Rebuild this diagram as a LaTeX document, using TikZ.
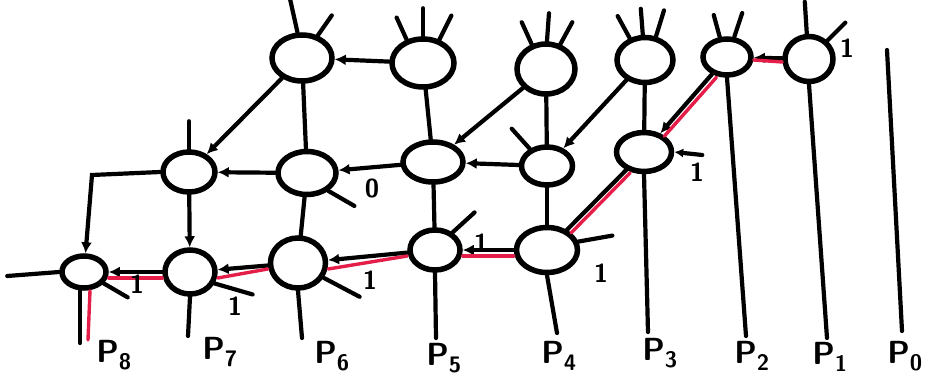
\documentclass[tikz,border=0pt]{standalone}
\usetikzlibrary{shapes.geometric,arrows.meta}
\definecolor{pen}{RGB}{228,30,72}
\begin{document}
\begin{tikzpicture}[x=1pt,y=-1pt,
  nd/.style={ellipse,draw,line width=5.5pt,inner sep=0pt,fill=white},
  ln/.style={line width=4.2pt,line cap=round},
  arr/.style={ln,-{Latex[length=11pt,width=11pt]}},
  rl/.style={line width=3.4pt,draw=pen,line cap=round},
  lab/.style={font=\fontsize{26}{26}\selectfont\bfseries\sffamily},
  plab/.style={font=\fontsize{32}{32}\selectfont\bfseries\sffamily}]
\useasboundingbox (0,0) rectangle (932,382);
% free ends
\coordinate (e8) at (80,343);
\coordinate (r8) at (88,340);
\coordinate (e7) at (188,336);
\coordinate (e6) at (302,338);
\coordinate (e5) at (436,338);
\coordinate (e4) at (557,333);
\coordinate (e3) at (648,332);
\coordinate (e2) at (746,336);
\coordinate (e1) at (827,338);
\coordinate (p0a) at (887,50);
\coordinate (p0b) at (902,331);
\coordinate (k8) at (92,175);
% nodes
\node[nd,minimum width=60pt,minimum height=46pt] (T6) at (302,58) {};
\node[nd,minimum width=62pt,minimum height=48pt] (T5) at (423,63) {};
\node[nd,minimum width=58pt,minimum height=50pt] (T4) at (546,69) {};
\node[nd,minimum width=56pt,minimum height=45pt] (T3) at (645,60) {};
\node[nd,minimum width=48pt,minimum height=36pt] (T2) at (727,57) {};
\node[nd,minimum width=48pt,minimum height=45pt] (T1) at (809,59) {};
\node[nd,minimum width=52pt,minimum height=40pt] (M7) at (189,172) {};
\node[nd,minimum width=58pt,minimum height=43pt] (M6) at (307,173) {};
\node[nd,minimum width=60pt,minimum height=40pt] (M5) at (433,162) {};
\node[nd,minimum width=51pt,minimum height=38pt] (M4) at (547,166) {};
\node[nd,minimum width=55pt,minimum height=39pt] (M3) at (644,152) {};
\node[nd,minimum width=44pt,minimum height=32pt] (B8) at (84,272) {};
\node[nd,minimum width=50pt,minimum height=44pt] (B7) at (190,272) {};
\node[nd,minimum width=55pt,minimum height=50pt] (B6) at (298,263) {};
\node[nd,minimum width=50pt,minimum height=40pt] (B5) at (435,250) {};
\node[nd,minimum width=61pt,minimum height=45pt] (B4) at (547,250) {};
% edges
\draw[arr] (T5) -- (T6);
\draw[arr] (T6) -- (M7);
\draw[ln] (T6) -- (M6);
\draw[ln] (T5) -- (M5);
\draw[arr] (T4) -- (M5);
\draw[ln] (T4) -- (M4);
\draw[arr] (T3) -- (M4);
\draw[ln] (T3) -- (M3);
\draw[arr] (T2) -- (M3);
\draw[arr] (T1) -- (T2);
\draw[ln] (M3) -- (B4);
\draw[arr] (M4) -- (M5);
\draw[arr] (M5) -- (M6);
\draw[arr] (M6) -- (M7);
\draw[arr] (M7.west) -- (k8) -- (B8);
\draw[arr] (M7) -- (B7);
\draw[ln] (M6) -- (B6);
\draw[ln] (M5) -- (B5);
\draw[ln] (M4) -- (B4);
\draw[arr] (B4) -- (B5);
\draw[arr] (B5) -- (B6);
\draw[arr] (B6) -- (B7);
\draw[arr] (B7) -- (B8);
% downward lines
\draw[ln] ([xshift=-4pt]B8.south) -- (e8);
\draw[ln] (B7.south) -- (e7);
\draw[ln] (B6.south) -- (e6);
\draw[ln] (B5.south) -- (e5);
\draw[ln] (B4.south) -- (e4);
\draw[ln] (M3.south) -- (e3);
\draw[ln] (T2.south) -- (e2);
\draw[ln] (T1.south) -- (e1);
\draw[ln] (p0a) -- (p0b);
% red path
\draw[rl] ([yshift=-3pt]T1.west) -- ([yshift=-3pt]T2.east);
\draw[rl] ([xshift=4pt,yshift=-3pt]T2.230) -- ([xshift=4pt,yshift=-3pt]M3.49);
\draw[rl] ([xshift=4pt,yshift=-3pt]M3.225) -- ([xshift=4pt,yshift=-3pt]B4.45);
\draw[rl] ([yshift=-6pt]B4.west) -- ([yshift=-6pt]B5.east);
\draw[rl] ([yshift=-6pt]B5.west) -- ([yshift=-6pt]B6.east);
\draw[rl] ([yshift=-6pt]B6.west) -- ([yshift=-6pt]B7.east);
\draw[rl] ([yshift=-6pt]B7.west) -- ([yshift=-6pt]B8.east);
\draw[rl] ([xshift=6pt]B8.south) -- (r8);
% spikes
\draw[ln] (T6.100) -- ++(-8,-36);
\draw[ln] (T6.55) -- ++(14,-20);
\draw[ln] (T5.125) -- ++(-10,-22);
\draw[ln] (T5.90) -- ++(0,-28);
\draw[ln] (T5.55) -- ++(12,-24);
\draw[ln] (T4.120) -- ++(-10,-22);
\draw[ln] (T4.88) -- ++(2,-28);
\draw[ln] (T4.60) -- ++(12,-22);
\draw[ln] (T3.125) -- ++(-12,-22);
\draw[ln] (T3.95) -- ++(-2,-26);
\draw[ln] (T3.65) -- ++(8,-26);
\draw[ln] (T2.110) -- ++(-6,-22);
\draw[ln] (T2.70) -- ++(8,-24);
\draw[ln] (T1.95) -- ++(-2,-32);
\draw[ln] (T1.45) -- ++(18,-18);
\draw[ln] (M7.north) -- ++(0,-28);
\draw[ln] (M6.-40) -- ++(26,15);
\draw[ln] (M4.135) -- ++(-18,-20);
\draw[ln,{Latex[length=9pt,width=9pt]}-] (M3.east) -- ++(28,3);
\draw[ln] (B8.west) -- ++(-52,4);
\draw[ln] (B8.-30) -- ++(24,14);
\draw[ln] (B7.-25) -- ++(38,11);
\draw[ln] (B6.-30) -- ++(36,19);
\draw[ln] (B5.45) -- ++(22,-20);
\draw[ln] (B4.15) -- ++(34,-6);
% weights
\node[lab] (w1) at (847,48) {1};
\node[lab] (w2) at (372,188) {0};
\node[lab] (w3) at (697,172) {1};
\node[lab] (w4) at (137,284) {1};
\node[lab] (w5) at (235,306) {1};
\node[lab] (w6) at (370,280) {1};
\node[lab] (w7) at (481,243) {1};
\node[lab] (w8) at (601,273) {1};
% process labels
\node[plab] (P8) at (114,355) {P\textsubscript{8}};
\node[plab] (P7) at (220,352) {P\textsubscript{7}};
\node[plab] (P6) at (332,356) {P\textsubscript{6}};
\node[plab] (P5) at (444,358) {P\textsubscript{5}};
\node[plab] (P4) at (559,356) {P\textsubscript{4}};
\node[plab] (P3) at (660,353) {P\textsubscript{3}};
\node[plab] (P2) at (752,356) {P\textsubscript{2}};
\node[plab] (P1) at (830,357) {P\textsubscript{1}};
\node[plab] (P0) at (905,356) {P\textsubscript{0}};
\end{tikzpicture}
\end{document}
